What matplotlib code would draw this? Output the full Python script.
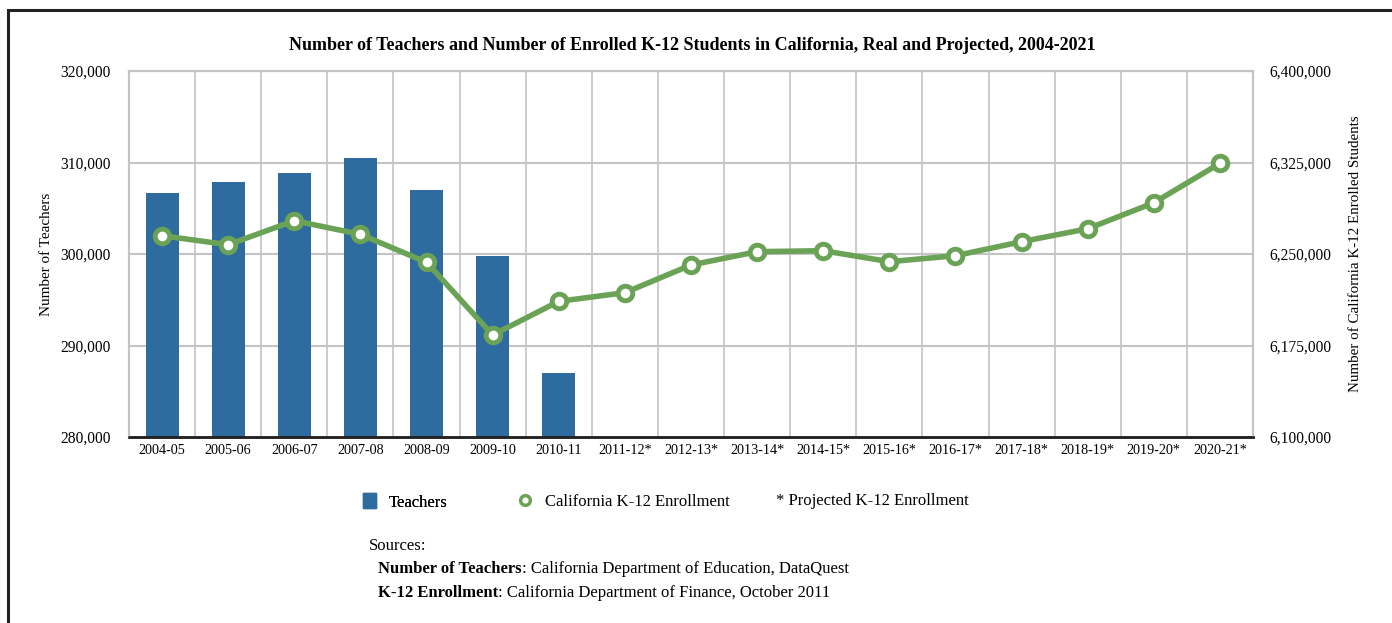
import matplotlib.pyplot as plt
import matplotlib.patches as mpatches
from matplotlib.lines import Line2D
from matplotlib.ticker import FuncFormatter
import numpy as np

plt.rcParams["font.family"] = ["Liberation Serif", "DejaVu Serif"]

# Data
years = [
    "2004-05", "2005-06", "2006-07", "2007-08", "2008-09", "2009-10", "2010-11",
    "2011-12*", "2012-13*", "2013-14*", "2014-15*", "2015-16*", "2016-17*",
    "2017-18*", "2018-19*", "2019-20*", "2020-21*",
]
teachers = [306630, 307900, 308890, 310460, 307000, 299750, 287000]
enrollment = [
    6265000, 6257600, 6277300, 6266100, 6243200, 6183600, 6211200, 6218300,
    6241000, 6251900, 6252700, 6243700, 6248600, 6260100, 6270700, 6292000,
    6324300,
]
teacher_ticks = [280000, 290000, 300000, 310000, 320000]
enroll_ticks = [6100000, 6175000, 6250000, 6325000, 6400000]

BAR_COLOR = "#2e6b9e"
LINE_COLOR = "#6aa356"
GRID_COLOR = "#c4c4c4"

fig = plt.figure(figsize=(13.92, 6.23), dpi=100)
ax = fig.add_axes([129 / 1392, 1 - 437 / 623, (1253 - 129) / 1392, (437 - 71) / 623])
ax2 = ax.twinx()

x = np.arange(len(years))
ax.bar(x[:len(teachers)], teachers, width=0.5, color=BAR_COLOR, zorder=2)
ax.set_ylim(teacher_ticks[0], teacher_ticks[-1])
ax.set_xlim(-0.5, len(years) - 0.5)
ax.set_yticks(teacher_ticks)
fmt = FuncFormatter(lambda v, p: f"{int(v):,}")
ax.yaxis.set_major_formatter(fmt)

ax2.plot(x, enrollment, color=LINE_COLOR, lw=4, marker="o", ms=10.5,
         markerfacecolor="white", markeredgecolor=LINE_COLOR, markeredgewidth=3.5,
         zorder=3)
ax2.set_ylim(enroll_ticks[0], enroll_ticks[-1])
ax2.set_yticks(enroll_ticks)
ax2.yaxis.set_major_formatter(fmt)

# grid: horizontal at ticks, vertical at category boundaries
for yv in teacher_ticks[1:]:
    ax.axhline(yv, color=GRID_COLOR, lw=1.5, zorder=0)
for xv in np.arange(0.5, len(years) - 0.5, 1):
    ax.axvline(xv, color=GRID_COLOR, lw=1.2, zorder=0)

ax.set_xticks(x)
ax.set_xticklabels(years, fontsize=10.2)
ax.tick_params(axis="x", length=0, pad=5)
ax.tick_params(axis="y", length=0, pad=13, labelsize=11.2)
ax2.tick_params(axis="y", length=0, pad=12, labelsize=11.2)

for a in (ax, ax2):
    for side in ("left", "right", "top"):
        a.spines[side].set_color(GRID_COLOR)
        a.spines[side].set_linewidth(1.5)
    a.spines["bottom"].set_color("#222222")
    a.spines["bottom"].set_linewidth(1.8)

ax.set_ylabel("Number of Teachers", fontsize=10.9)
ax.yaxis.set_label_coords(-0.0676, 0.5)
ax2.set_ylabel("Number of California K-12 Enrolled Students", fontsize=10.8)
ax2.yaxis.set_label_coords(1.0854, 0.5)

fig.text(692 / 1392, 1 - 46 / 623,
         "Number of Teachers and Number of Enrolled K-12 Students in California, Real and Projected, 2004-2021",
         ha="center", va="center", fontsize=13, fontweight="bold")

# legend
leg1 = fig.legend([mpatches.Patch(color=BAR_COLOR)], ["Teachers"],
                  loc="center left", bbox_to_anchor=(348 / 1392, 1 - 502 / 623),
                  frameon=False, fontsize=12, handlelength=0.8, handleheight=1.0,
                  handletextpad=0.72)
fig.add_artist(leg1)
marker_handle = Line2D([], [], ls="none", marker="o", ms=7, markerfacecolor="white",
                       markeredgecolor=LINE_COLOR, markeredgewidth=2.5)
fig.legend([marker_handle], ["California K-12 Enrollment"],
           loc="center left", bbox_to_anchor=(500 / 1392, 1 - 502 / 623),
           frameon=False, fontsize=12, handlelength=1.2, handletextpad=0.6)
fig.text(776 / 1392, 1 - 501 / 623, "* Projected K-12 Enrollment",
         ha="left", va="center", fontsize=12)

# sources
fig.text(369 / 1392, 1 - 546 / 623, "Sources:", ha="left", va="center", fontsize=12)
t1 = fig.text(378 / 1392, 1 - 569 / 623, "Number of Teachers", ha="left", va="center",
              fontsize=12, fontweight="bold")
ax.annotate(": California Department of Education, DataQuest", xy=(1, 0.5),
            xycoords=t1, va="center", ha="left", fontsize=12, annotation_clip=False)
t2 = fig.text(378 / 1392, 1 - 593 / 623, "K-12 Enrollment", ha="left", va="center",
              fontsize=12, fontweight="bold")
ax.annotate(": California Department of Finance, October 2011", xy=(1, 0.5),
            xycoords=t2, va="center", ha="left", fontsize=12, annotation_clip=False)

# outer frame
frame = mpatches.Rectangle((8 / 1392, -0.2), 1.2, 1.2 - 10 / 623,
                           transform=fig.transFigure, fill=False, lw=2.2,
                           edgecolor="#222222", clip_on=False)
fig.patches.append(frame)

fig.savefig("out.png", dpi=100)
